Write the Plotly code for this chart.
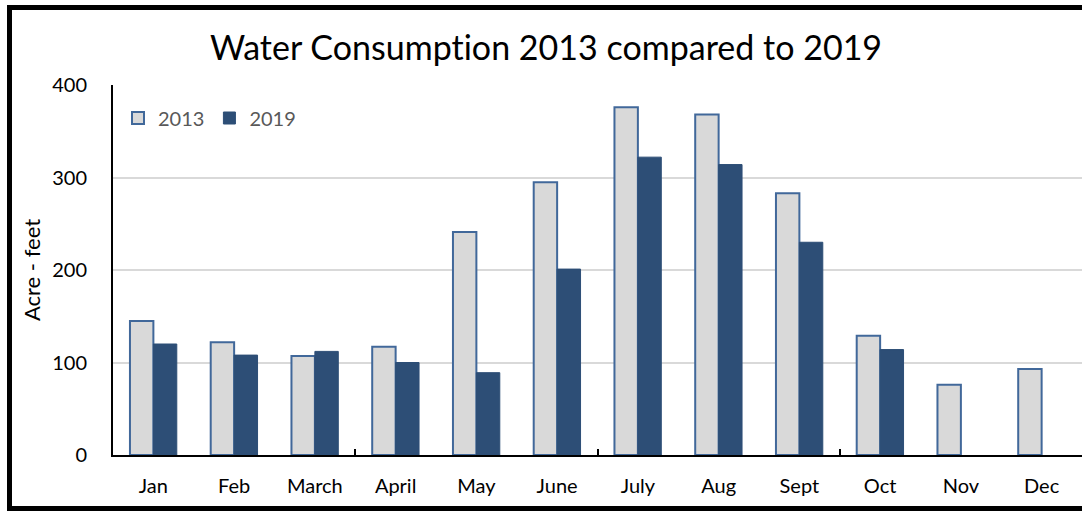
import plotly.graph_objects as go

# Monthly water consumption (acre-feet)
months = ["Jan", "Feb", "March", "April", "May", "June",
          "July", "Aug", "Sept", "Oct", "Nov", "Dec"]
use_2013 = [145, 122, 107, 117, 241, 295, 376, 368, 283, 129, 76, 93]
use_2019 = [120, 108, 112, 100, 89, 201, 322, 314, 230, 114, None, None]
y_ticks = [0, 100, 200, 300, 400]
# category boundaries that carry a tick mark
boundary_ticks = [2.5, 5.5, 8.5]

FONT = "Lato"
W, H = 1082, 511
ML, MR, MT, MB = 113, 0, 85, 56
PW, PH = W - ML - MR, H - MT - MB


def px_x(px):
    return (px - ML) / PW


def px_y(py):
    return (H - MB - py) / PH


fig = go.Figure()
fig.add_trace(go.Bar(
    x=months, y=use_2013, name="2013",
    marker=dict(color="#D9D9D9", line=dict(color="#41689A", width=2)),
))
fig.add_trace(go.Bar(
    x=months, y=use_2019, name="2019",
    marker=dict(color="#2D4E76", line=dict(color="#2D4E76", width=1)),
))
# invisible helper trace so the boundary tick axis is drawn
fig.add_trace(go.Scatter(
    x=boundary_ticks, y=[0] * len(boundary_ticks), xaxis="x2",
    mode="markers", marker=dict(opacity=0), showlegend=False, hoverinfo="skip",
))

fig.update_layout(
    width=W, height=H,
    margin=dict(l=ML, r=MR, t=MT, b=MB),
    paper_bgcolor="white", plot_bgcolor="white",
    barmode="group", bargap=0.42, bargroupgap=0,
    font=dict(family=FONT, color="black"),
    title=dict(
        # ligatures off so "ti" renders as two letters
        text='<span style="font-variant-ligatures:none;letter-spacing:0.01px">'
             'Water Consumption 2013 compared to 2019</span>',
        x=546 / W, xanchor="center", xref="container",
        y=1 - 48 / H, yanchor="middle", yref="container",
        font=dict(family=FONT, size=34, color="black"),
    ),
    legend=dict(
        orientation="h", x=px_x(118), xanchor="left",
        y=px_y(118), yanchor="middle",
        font=dict(family=FONT, size=20, color="#595959"),
        bgcolor="rgba(0,0,0,0)", itemwidth=30, traceorder="normal",
    ),
    xaxis=dict(
        type="category", range=[-0.5, 11.5],
        showline=True, linecolor="black", linewidth=2,
        ticks="", showgrid=False,
        tickfont=dict(family=FONT, size=20, color="black"),
        ticklabelstandoff=12,
    ),
    xaxis2=dict(
        overlaying="x", anchor="y", range=[-0.5, 11.5],
        tickvals=boundary_ticks, ticks="inside", ticklen=6, tickwidth=2,
        tickcolor="black", showticklabels=False, showgrid=False,
        zeroline=False, showline=False, side="bottom",
    ),
    yaxis=dict(
        range=[0, 400], tickvals=y_ticks,
        showline=True, linecolor="black", linewidth=2,
        showgrid=True, gridcolor="#D9D9D9", gridwidth=2,
        zeroline=False, ticks="",
        tickfont=dict(family=FONT, size=20, color="black"),
        ticklabelstandoff=20,
        title=dict(text="Acre - feet", font=dict(family=FONT, size=22, color="black"),
                   standoff=5),
    ),
    shapes=[dict(
        type="rect", xref="paper", yref="paper",
        x0=px_x(9.5), x1=px_x(W + 10), y0=px_y(508.5), y1=px_y(7.5),
        line=dict(color="black", width=5), fillcolor="rgba(0,0,0,0)",
        layer="above",
    )],
)

fig.write_html("out.html")
